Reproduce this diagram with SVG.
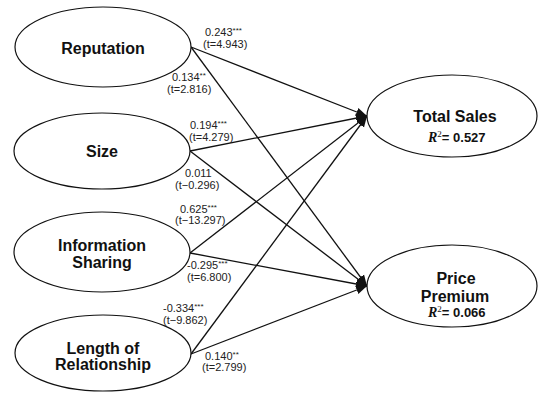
<svg xmlns="http://www.w3.org/2000/svg" width="540" height="393" viewBox="0 0 540 393">
  <style>
    .node ellipse { fill: #ffffff; stroke: #111111; stroke-width: 1.2; }
    .title { font-family: "Liberation Sans", Arial, sans-serif; font-weight: bold; font-size: 16px; fill: #111111; text-anchor: middle; }
    .r2 { font-family: "Liberation Sans", Arial, sans-serif; font-weight: bold; font-size: 13px; fill: #111111; }
    .r2 .rv { font-family: "Liberation Serif", "Times New Roman", serif; font-style: italic; font-size: 14px; }
    .r2 .sup { font-family: "Liberation Serif", serif; font-size: 9px; font-weight: normal; }
    .coef { font-family: "Liberation Sans", Arial, sans-serif; font-size: 11px; fill: #222222; }
    .coef .sig { font-size: 8px; }
    .edges line { stroke: #111111; stroke-width: 1.3; marker-end: url(#arrow); }
  </style>
  <defs>
    <marker id="arrow" viewBox="0 0 10 10" refX="10" refY="5" markerWidth="11" markerHeight="11" markerUnits="userSpaceOnUse" orient="auto">
      <path d="M0,1 L10,5 L0,9 Z" fill="#111111"/>
    </marker>
  </defs>
  <rect width="540" height="393" fill="#ffffff"/>

  <!-- paths from predictors to outcomes -->
  <g id="connectors" class="edges">
    <line x1="191" y1="47" x2="367" y2="116"/>
    <line x1="191" y1="47" x2="367" y2="286"/>
    <line x1="190" y1="151" x2="367" y2="116"/>
    <line x1="190" y1="151" x2="367" y2="286"/>
    <line x1="190" y1="253" x2="367" y2="116"/>
    <line x1="190" y1="253" x2="367" y2="286"/>
    <line x1="191" y1="354" x2="367" y2="116"/>
    <line x1="191" y1="354" x2="367" y2="286"/>
  </g>

  <!-- predictor constructs -->
  <g id="reputation" class="node">
    <ellipse cx="103" cy="47" rx="88" ry="40"/>
    <text class="title" x="103" y="54">Reputation</text>
  </g>
  <g id="size" class="node">
    <ellipse cx="102" cy="151" rx="88" ry="38"/>
    <text class="title" x="102" y="157">Size</text>
  </g>
  <g id="information-sharing" class="node">
    <ellipse cx="102" cy="252" rx="88" ry="40"/>
    <text class="title" x="102" y="251">Information</text>
    <text class="title" x="102" y="268">Sharing</text>
  </g>
  <g id="length-of-relationship" class="node">
    <ellipse cx="103" cy="353" rx="88" ry="38"/>
    <text class="title" x="103" y="354">Length of</text>
    <text class="title" x="103" y="370">Relationship</text>
  </g>

  <!-- outcome constructs -->
  <g id="total-sales" class="node">
    <ellipse cx="452" cy="116" rx="85" ry="41"/>
    <text class="title" x="455" y="122">Total Sales</text>
    <text class="r2" x="428" y="142"><tspan class="rv">R</tspan><tspan class="sup" dy="-5">2</tspan><tspan dy="5">= 0.527</tspan></text>
  </g>
  <g id="price-premium" class="node">
    <ellipse cx="452" cy="286" rx="85" ry="41"/>
    <text class="title" x="456" y="284">Price</text>
    <text class="title" x="455" y="302">Premium</text>
    <text class="r2" x="428" y="317"><tspan class="rv">R</tspan><tspan class="sup" dy="-5">2</tspan><tspan dy="5">= 0.066</tspan></text>
  </g>

  <!-- path coefficients -->
  <g id="coefficients" class="coef">
    <text x="205" y="36">0.243<tspan class="sig" dy="-3">***</tspan></text>
    <text x="203" y="48">(t=4.943)</text>
    <text x="172" y="81">0.134<tspan class="sig" dy="-3">**</tspan></text>
    <text x="167" y="93">(t=2.816)</text>
    <text x="190" y="129">0.194<tspan class="sig" dy="-3">***</tspan></text>
    <text x="189" y="141">(t=4.279)</text>
    <text x="185" y="177">0.011</text>
    <text x="175" y="189">(t−0.296)</text>
    <text x="180" y="213">0.625<tspan class="sig" dy="-3">***</tspan></text>
    <text x="175" y="224">(t−13.297)</text>
    <text x="187" y="269">-0.295<tspan class="sig" dy="-3">***</tspan></text>
    <text x="187" y="281">(t=6.800)</text>
    <text x="163" y="312">-0.334<tspan class="sig" dy="-3">***</tspan></text>
    <text x="163" y="324">(t−9.862)</text>
    <text x="205" y="360">0.140<tspan class="sig" dy="-3">**</tspan></text>
    <text x="202" y="371">(t=2.799)</text>
  </g>
</svg>
